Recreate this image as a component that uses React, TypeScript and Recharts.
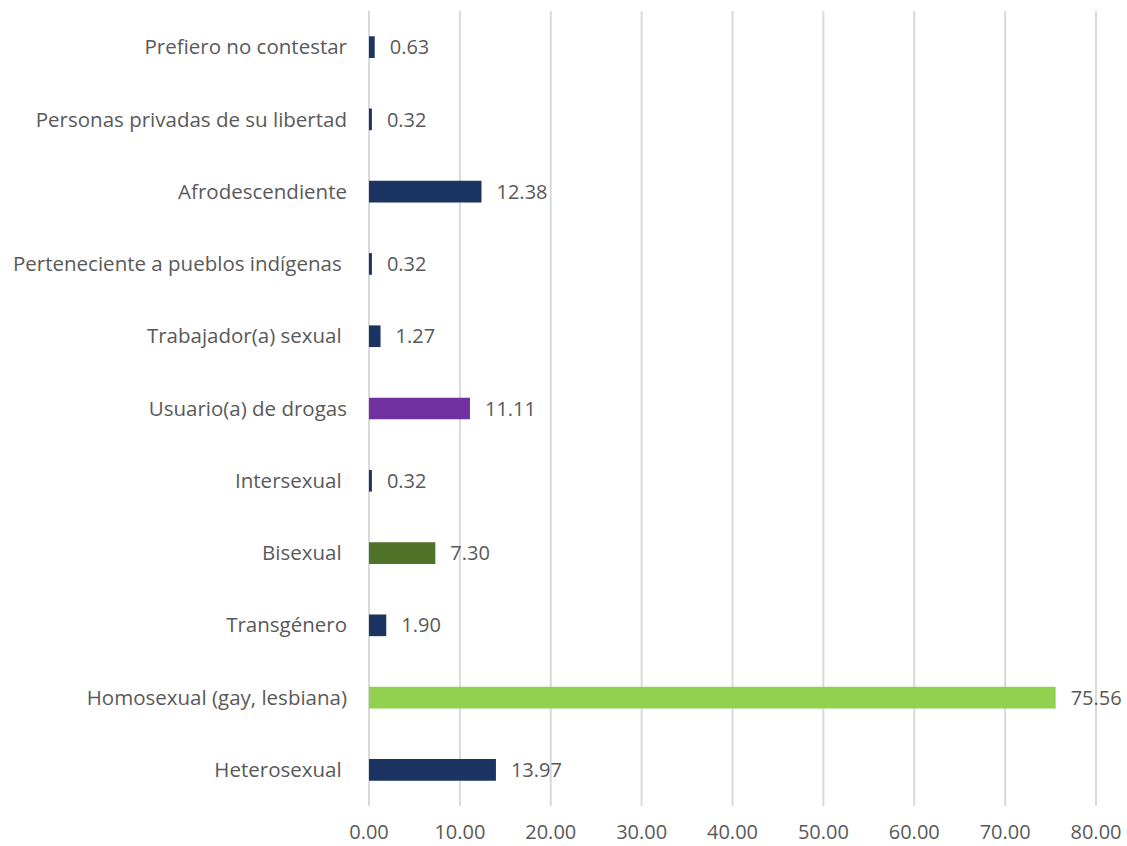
import { BarChart, Bar, XAxis, YAxis, CartesianGrid, Cell, LabelList } from 'recharts';

const categories = [
	'Prefiero no contestar',
	'Personas privadas de su libertad',
	'Afrodescendiente',
	'Perteneciente a pueblos indígenas ',
	'Trabajador(a) sexual ',
	'Usuario(a) de drogas',
	'Intersexual ',
	'Bisexual ',
	'Transgénero',
	'Homosexual (gay, lesbiana)',
	'Heterosexual ',
];
const values = [0.63, 0.32, 12.38, 0.32, 1.27, 11.11, 0.32, 7.3, 1.9, 75.56, 13.97];
const barColors = [
	'#1b3461', '#1b3461', '#1b3461', '#1b3461', '#1b3461',
	'#7030a0', '#1b3461', '#4f7229', '#1b3461', '#92d050', '#1b3461',
];
const xTicks = [0, 10, 20, 30, 40, 50, 60, 70, 80];

const data = categories.map((name, i) => ({ name, value: values[i] }));

const font = '"Open Sans", sans-serif';
const textColor = '#595959';

const CategoryTick = (props: any) => {
	const { x, y, payload } = props;
	return (
		<text
			x={x}
			y={y}
			dy='0.35em'
			textAnchor='end'
			fill={textColor}
			fontSize={20.5}
			fontFamily={font}
			style={{ whiteSpace: 'pre' }}>
			{payload.value}
		</text>
	);
};

const App = () => {
	document.body.style.margin = '0';
	return (
		<div style={{ width: 1127, height: 846, background: '#fff' }}>
			<BarChart
				width={1127}
				height={846}
				data={data}
				layout='vertical'
				barCategoryGap='65%'
				margin={{ top: 11, right: 31, left: 0, bottom: 10 }}>
				<CartesianGrid horizontal={false} stroke='#d9d9d9' strokeWidth={2} />
				<XAxis
					type='number'
					domain={[0, 80]}
					ticks={xTicks}
					axisLine={false}
					tickLine={false}
					tickMargin={13}
					height={30}
					tickFormatter={(v: number) => v.toFixed(2)}
					tick={{ fill: textColor, fontSize: 20, fontFamily: font }}
				/>
				<YAxis
					type='category'
					dataKey='name'
					width={369}
					axisLine={false}
					tickLine={false}
					tickMargin={16}
					tick={<CategoryTick />}
				/>
				<Bar dataKey='value' isAnimationActive={false}>
					{data.map((d, i) => (
						<Cell key={d.name} fill={barColors[i]} />
					))}
					<LabelList
						dataKey='value'
						position='right'
						offset={15}
						formatter={(v: any) => Number(v).toFixed(2)}
						fill={textColor}
						fontSize={20}
						fontFamily={font}
					/>
				</Bar>
			</BarChart>
		</div>
	);
};

export default App;
